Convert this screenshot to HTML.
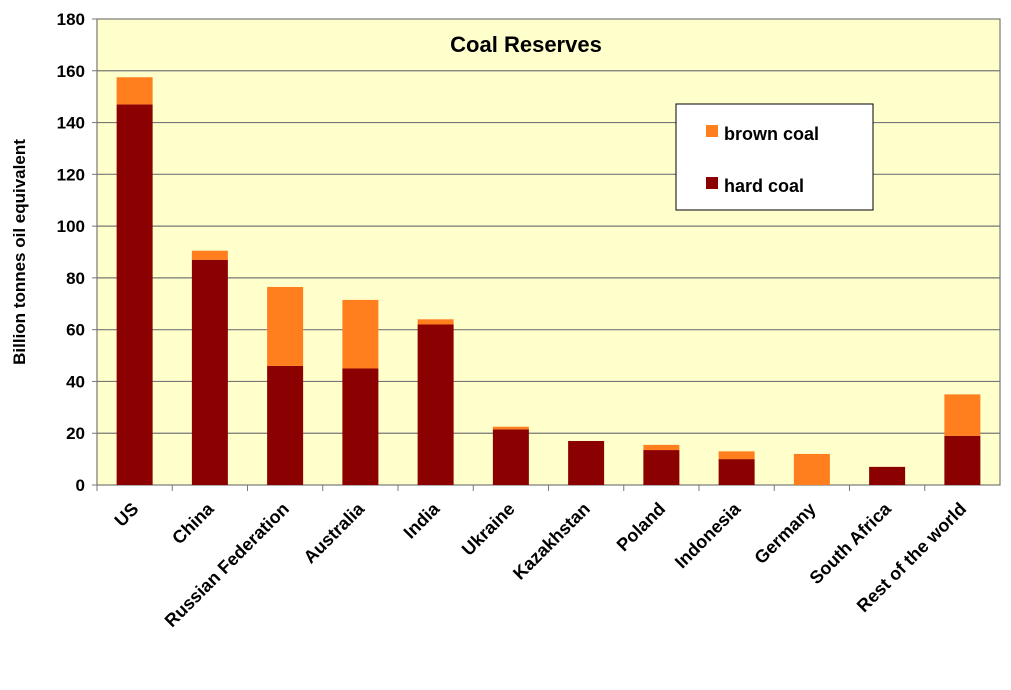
<!DOCTYPE html>
<html><head><meta charset="utf-8"><style>
body{margin:0;background:#fff;}
svg text{font-family:"Liberation Sans",sans-serif;font-weight:bold;}
</style></head><body>
<svg id="chart" width="1011" height="685" xmlns="http://www.w3.org/2000/svg">
<rect x="97" y="19" width="903" height="466" fill="#FFFFCC" stroke="#777" stroke-width="1.2"/>
<g id="grid"></g><g id="bars"></g><g id="xlabels"></g><g id="ylabels"></g>
<text x="526" y="52" font-size="22" text-anchor="middle" fill="#000">Coal Reserves</text>
<text transform="translate(25,252) rotate(-90)" font-size="17" text-anchor="middle">Billion tonnes oil equivalent</text>
<g>
<rect x="676" y="104" width="197" height="106" fill="#fff" stroke="#000" stroke-width="1"/>
<rect x="706" y="125" width="12" height="12" fill="#FF7F1F"/>
<text x="724" y="140" font-size="18">brown coal</text>
<rect x="706" y="177" width="12" height="12" fill="#8B0000"/>
<text x="724" y="192" font-size="18">hard coal</text>
</g>
</svg>
<script>
const categories=["US","China","Russian Federation","Australia","India","Ukraine","Kazakhstan","Poland","Indonesia","Germany","South Africa","Rest of the world"];
const hardCoal=[147,87,46,45,62,21.5,17,13.5,10,0,7,19];
const brownCoal=[10.5,3.5,30.5,26.5,2,1,0,2,3,12,0,16];
const yTicks=[0,20,40,60,80,100,120,140,160,180];
const NS="http://www.w3.org/2000/svg";
const x0=97,x1=1000,yTop=19,yBot=485,yMax=180;
const y=v=>yBot-(v/yMax)*(yBot-yTop);
const step=(x1-x0)/categories.length;
const xc=i=>x0+step*(i+0.5);
function mk(tag,attrs,parent){const e=document.createElementNS(NS,tag);for(const k in attrs)e.setAttribute(k,attrs[k]);document.getElementById(parent).appendChild(e);return e;}
yTicks.forEach(t=>{
 if(t>0&&t<yMax){const l=mk('line',{x1:x0,x2:x1,y1:y(t),y2:y(t),stroke:'#777','stroke-width':1.2},'grid');
 
 }
 const tk=mk('line',{x1:x0-5,x2:x0,y1:y(t),y2:y(t),stroke:'#777'},'grid');
 
 
 const tx=mk('text',{x:85,y:y(t)+6,'font-size':17,'text-anchor':'end'},'ylabels');
 tx.textContent=t;
 
 
});
const bw=36;
categories.forEach((c,i)=>{
 const cx=xc(i);
 const tk=mk('line',{x1:x0+step*i,x2:x0+step*i,y1:yBot,y2:yBot+6,stroke:'#777'},'grid');
 
 
 if(hardCoal[i]>0){const r=mk('rect',{x:cx-bw/2,y:y(hardCoal[i]),width:bw,height:yBot-y(hardCoal[i]),fill:'#8B0000'},'bars');
 
 }
 if(brownCoal[i]>0){const top=hardCoal[i]+brownCoal[i];const r=mk('rect',{x:cx-bw/2,y:y(top),width:bw,height:y(hardCoal[i])-y(top),fill:'#FF7F1F'},'bars');
 
 }
 const t=mk('text',{transform:`translate(${cx+5},${yBot+25}) rotate(-45)`,'font-size':18,'text-anchor':'end'},'xlabels');
 t.textContent=c;
 
 
});
</script>
</body></html>
